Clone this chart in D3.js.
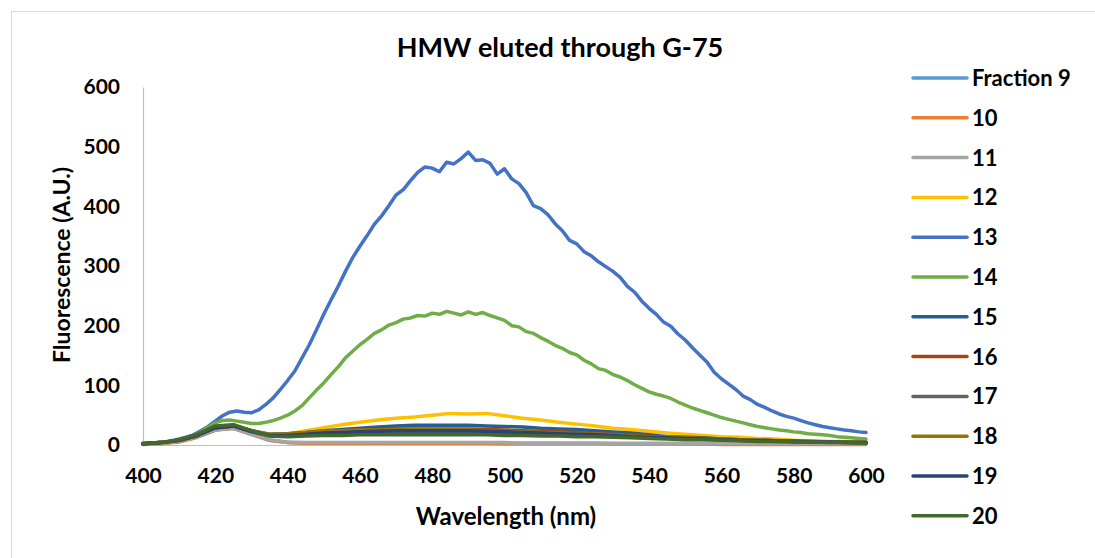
<!DOCTYPE html>
<html>
<head>
<meta charset="utf-8">
<script src="https://cdn.jsdelivr.net/npm/d3@7"></script>
<style>
  html, body { margin: 0; padding: 0; background: #fff; }
  svg { display: block; font-family: Lato, "Open Sans", "Liberation Sans", sans-serif; }
</style>
</head>
<body>
<svg id="chart" width="1095" height="558"></svg>
<script>
// Emission scans of HMW fractions eluted through G-75
const fineWavelengths = d3.range(400, 601, 2);    // nm, 2 nm step
const coarseWavelengths = d3.range(400, 601, 5);  // nm, 5 nm step

const seriesNames = ["Fraction 9", "10", "11", "12", "13", "14", "15", "16", "17", "18", "19", "20"];
const seriesColors = ["#5B9BD5", "#ED7D31", "#A5A5A5", "#FFC000", "#4472C4", "#70AD47",
                      "#255E91", "#9E480E", "#636363", "#997300", "#264478", "#43682B"];

const xTicks = [400, 420, 440, 460, 480, 500, 520, 540, 560, 580, 600];
const yTicks = [0, 100, 200, 300, 400, 500, 600];

// fraction 13 and 14 (2 nm step)
const fraction13 = [
  3,3,4,5,7,10,13,17,24,31,
  40,49,55,57,55,54,59,68,79,93,
  108,124,146,168,193,219,243,266,291,314,
  333,351,370,384,401,419,428,443,457,466,
  464,458,474,471,480,491,477,478,472,454,
  463,446,438,423,401,396,386,371,359,343,
  337,324,317,307,299,291,281,266,256,241,
  229,219,206,199,186,176,163,151,139,122,
  111,102,93,82,76,68,63,57,52,48,
  45,41,37,34,31,29,27,25,24,22,
  21
];
const fraction14 = [
  3,3,4,5,6,8,11,15,22,30,
  37,41,42,40,38,36,36,38,41,45,
  50,57,66,79,92,104,118,131,146,157,
  168,177,187,193,201,205,211,213,217,216,
  221,219,224,221,218,223,219,222,217,213,
  209,200,198,190,187,180,174,167,162,155,
  151,142,136,128,125,118,114,108,101,95,
  89,85,82,78,72,67,62,58,54,50,
  46,43,40,37,34,31,29,27,25,24,
  22,21,19,18,17,16,14,13,12,11,
  10
];

// remaining fractions (5 nm step)
const fraction9  = [2,3,6,13,25,28,18,8,4,3,3,3,3,3,3,3,3,3,3,3,3,3,3,3,3,3,2,2,2,2,2,2,2,2,2,2,2,2,2,2,2];
const fraction10 = [1,2,5,13,25,28,18,8,4,3,3,3,3,3,3,3,3,3,3,3,2,2,2,2,2,2,2,2,2,2,2,2,1,1,1,1,1,1,1,1,1];
const fraction11 = [2,3,6,14,26,28,18,9,5,4,4,4,4,4,4,4,4,4,4,4,4,3,3,3,3,3,3,3,3,3,3,3,3,3,3,3,3,3,3,3,3];
const fraction12 = [2,4,8,17,31,34,24,16,18,24,29,34,38,42,45,47,50,53,52,53,49,45,42,38,35,32,28,26,23,20,18,16,14,13,11,10,8,7,6,6,5];
const fraction15 = [2,4,8,16,29,32,24,18,19,21,24,26,28,30,32,33,33,33,33,32,31,30,28,27,26,24,22,20,17,14,13,12,10,9,8,7,7,6,5,5,4];
const fraction16 = [2,4,8,16,29,32,23,17,18,20,22,24,25,26,27,27,27,27,27,26,25,24,23,22,21,19,18,16,15,13,12,11,10,9,8,7,6,5,5,4,4];
const fraction17 = [2,4,8,16,29,32,22,16,16,18,19,20,21,21,22,22,22,22,22,21,21,20,19,18,17,16,15,14,13,12,11,10,9,8,7,6,6,5,5,4,4];
const fraction18 = [2,4,8,16,30,33,24,18,19,21,23,24,25,25,26,26,26,25,25,24,23,22,21,20,19,18,17,15,14,13,12,11,10,9,8,7,6,6,5,5,4];
const fraction19 = [2,4,8,16,29,32,23,16,16,18,20,21,22,23,24,24,24,24,24,23,22,21,20,19,18,17,16,14,13,12,11,10,9,8,7,7,6,5,5,4,4];
const fraction20 = [2,4,9,18,32,34,24,15,14,15,16,16,17,17,17,17,17,17,17,17,16,16,15,15,14,14,13,12,11,10,9,9,8,7,6,6,5,5,4,4,3];

const seriesValues = [fraction9, fraction10, fraction11, fraction12, fraction13, fraction14,
                      fraction15, fraction16, fraction17, fraction18, fraction19, fraction20];

const series = seriesNames.map((name, i) => {
  const vals = seriesValues[i];
  const wl = vals.length === fineWavelengths.length ? fineWavelengths : coarseWavelengths;
  return { name, color: seriesColors[i], points: vals.map((v, j) => [wl[j], v]) };
});

const svg = d3.select("#chart");

// outer chart frame
svg.append("rect")
  .attr("x", 11.5).attr("y", 11.5)
  .attr("width", 1100).attr("height", 560)
  .attr("fill", "#fff").attr("stroke", "#d9d9d9").attr("stroke-width", 1);

const x = d3.scaleLinear().domain([400, 600]).range([143, 866]);
const y = d3.scaleLinear().domain([0, 600]).range([445, 87]);

const tickFont = 21;

// y axis
const yAxis = svg.append("g")
  .attr("transform", `translate(${x(400)},0)`)
  .call(d3.axisLeft(y).tickValues(yTicks).tickSize(0).tickSizeOuter(0).tickPadding(23));
yAxis.select(".domain").attr("stroke", "#bfbfbf").attr("stroke-width", 1.2);
yAxis.selectAll("text")
  .attr("fill", "#000").style("font-size", tickFont + "px").style("font-weight", "bold")
  .style("font-family", "Lato, sans-serif");

// x axis
const xAxis = svg.append("g")
  .attr("transform", `translate(0,${y(0)})`)
  .call(d3.axisBottom(x).tickValues(xTicks).tickSize(0).tickSizeOuter(0).tickPadding(23));
xAxis.select(".domain").attr("stroke", "#bfbfbf").attr("stroke-width", 1.2);
xAxis.selectAll("text")
  .attr("fill", "#000").style("font-size", tickFont + "px").style("font-weight", "bold")
  .style("font-family", "Lato, sans-serif");

// curves
const line = d3.line().x(d => x(d[0])).y(d => y(d[1]));
svg.append("g").selectAll("path")
  .data(series)
  .join("path")
  .attr("d", d => line(d.points))
  .attr("fill", "none")
  .attr("stroke", d => d.color)
  .attr("stroke-width", 3.5)
  .attr("stroke-linejoin", "round")
  .attr("stroke-linecap", "round");

// title
svg.append("text")
  .attr("x", 560).attr("y", 57)
  .attr("text-anchor", "middle")
  .style("font-size", "27px").style("font-weight", "bold")
  .text("HMW eluted through G-75");

// axis titles
svg.append("text")
  .attr("x", 506).attr("y", 525)
  .attr("text-anchor", "middle")
  .style("font-size", "24px").style("font-weight", "bold")
  .text("Wavelength (nm)");

svg.append("text")
  .attr("transform", "translate(70,265) rotate(-90)")
  .attr("text-anchor", "middle")
  .style("font-size", "23px").style("font-weight", "bold")
  .text("Fluorescence (A.U.)");

// legend
const legend = svg.append("g").selectAll("g")
  .data(series)
  .join("g")
  .attr("transform", (d, i) => `translate(913,${78 + i * 39.8})`);
legend.append("line")
  .attr("x1", 0).attr("x2", 54).attr("y1", 0).attr("y2", 0)
  .attr("stroke", d => d.color).attr("stroke-width", 3.5).attr("stroke-linecap", "round");
legend.append("text")
  .attr("x", 59).attr("y", 0).attr("dy", "0.36em")
  .style("font-size", "22px").style("font-weight", "bold")
  .text(d => d.name);
</script>
</body>
</html>
